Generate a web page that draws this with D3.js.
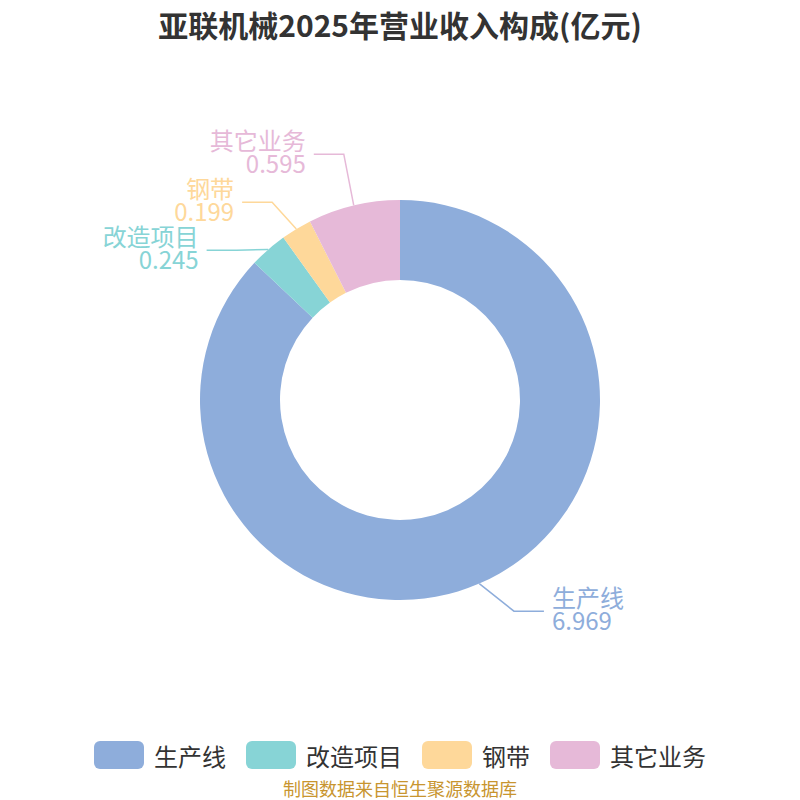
<!DOCTYPE html>
<html>
<head>
<meta charset="utf-8">
<script src="https://cdn.jsdelivr.net/npm/d3@7/dist/d3.min.js"></script>
<style>
  html, body { margin: 0; padding: 0; background: #fff; }
  svg { display: block; }
  text { font-family: "Noto Sans CJK SC", "Noto Sans", sans-serif; }
</style>
</head>
<body>
<svg id="chart" width="800" height="800"></svg>
<script>
// ---- data ----
const title = "亚联机械2025年营业收入构成(亿元)";
const categories = ["生产线", "改造项目", "钢带", "其它业务"];
const values = [6.969, 0.245, 0.199, 0.595];
const colors = ["#8eaddb", "#87d4d6", "#fed89a", "#e6b9d8"];
const source = "制图数据来自恒生聚源数据库";

const W = 800, H = 800;
const cx = 400, cy = 400;
const outerR = 200, innerR = 120;
const labelR = 230;       // initial radius of label elbow
const ellA = 201.5, ellB = 256; // ellipse used to realign elbows after shifting
const len2 = 30;          // horizontal part of label line
const minGap = 48;        // min vertical distance between labels

const svg = d3.select("#chart");

const data = categories.map((c, i) => ({ name: c, value: values[i], color: colors[i] }));

// title
svg.append("text")
  .attr("x", W / 2).attr("y", 24)
  .attr("text-anchor", "middle")
  .attr("dominant-baseline", "central")
  .attr("font-size", 30).attr("font-weight", "bold")
  .attr("fill", "#333333")
  .text(title);

const pie = d3.pie().sort(null).value(d => d.value);
const arcs = pie(data);
const arc = d3.arc().innerRadius(innerR).outerRadius(outerR);

const g = svg.append("g").attr("transform", `translate(${cx},${cy})`);
g.selectAll("path.slice").data(arcs).enter().append("path")
  .attr("class", "slice")
  .attr("d", arc)
  .attr("fill", d => d.data.color);

// ---- label layout ----
const labels = arcs.map(a => {
  const mid = (a.startAngle + a.endAngle) / 2;
  const s = Math.sin(mid), c = Math.cos(mid);
  return {
    d: a.data,
    side: s >= 0 ? 1 : -1,
    ex: outerR * s, ey: -outerR * c,
    y: -labelR * c
  };
});
[1, -1].forEach(side => {
  const list = labels.filter(l => l.side === side).sort((a, b) => a.y - b.y);
  if (list.length < 2) return;
  const origMean = d3.mean(list, l => l.y);
  for (let i = 1; i < list.length; i++) {
    if (list[i].y - list[i - 1].y < minGap) list[i].y = list[i - 1].y + minGap;
  }
  const shift = origMean - d3.mean(list, l => l.y);
  list.forEach(l => l.y += shift);
});
labels.forEach(l => {
  const dy = Math.abs(l.y);
  const dx = ellA * Math.sqrt(Math.max(0, 1 - dy * dy / (ellB * ellB)));
  l.x = l.side * dx;
  if (l.side < 0) l.x = Math.min(l.x, l.ex);
  else l.x = Math.max(l.x, l.ex);
});

const line = d3.line();
g.selectAll("path.lbl").data(labels).enter().append("path")
  .attr("class", "lbl")
  .attr("d", l => line([[l.ex, l.ey], [l.x, l.y], [l.x + l.side * len2, l.y]]))
  .attr("fill", "none")
  .attr("stroke", l => l.d.color)
  .attr("stroke-width", 1.5);

// each label: one text element with two lines (name, value)
const lt = g.selectAll("text.lt").data(labels).enter().append("text")
  .attr("class", "lt")
  .attr("text-anchor", l => l.side > 0 ? "start" : "end")
  .attr("font-size", 24)
  .attr("fill", l => l.d.color);
lt.append("tspan")
  .attr("x", l => l.x + l.side * (len2 + 8))
  .attr("y", l => l.y - 4)
  .text(l => l.d.name);
lt.append("tspan")
  .attr("x", l => l.x + l.side * (len2 + 8))
  .attr("dy", 23)
  .text(l => l.d.value.toFixed(3));

// ---- legend ----
const legend = svg.append("g");
let xPos = 0;
const boxW = 50, boxH = 28;
data.forEach((d, i) => {
  const it = legend.append("g").attr("transform", `translate(${xPos},0)`);
  it.append("rect")
    .attr("x", 0).attr("y", -boxH / 2)
    .attr("width", boxW).attr("height", boxH)
    .attr("rx", 6).attr("ry", 6)
    .attr("fill", d.color);
  const t = it.append("text")
    .attr("x", boxW + 10).attr("y", 0)
    .attr("dominant-baseline", "central")
    .attr("font-size", 24)
    .attr("fill", "#333333")
    .text(d.name);
  const tw = t.node().getComputedTextLength();
  xPos += boxW + 10 + tw + (i < data.length - 1 ? 20 : 0);
});
legend.attr("transform", `translate(${(W - xPos) / 2},755)`);

// source
svg.append("text")
  .attr("x", W / 2).attr("y", 788)
  .attr("text-anchor", "middle")
  .attr("dominant-baseline", "central")
  .attr("font-size", 18)
  .attr("fill", "#c8952f")
  .text(source);
</script>
</body>
</html>
